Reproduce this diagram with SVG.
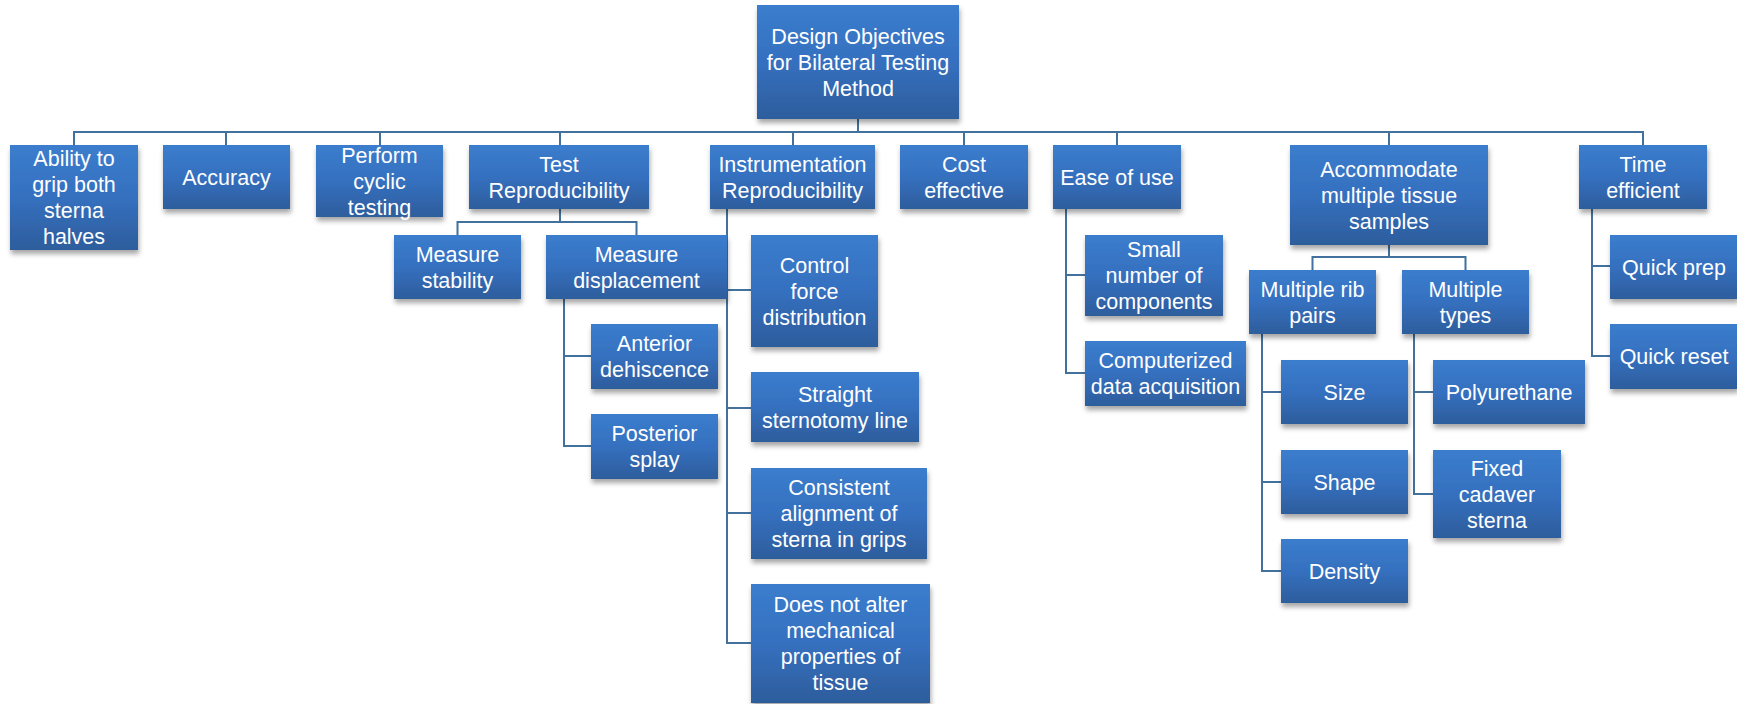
<svg xmlns="http://www.w3.org/2000/svg" width="1737" height="704" viewBox="0 0 1737 704">
<style>
.box{fill:url(#g);filter:url(#sh);}
.lbl{font-family:"Liberation Sans",Arial,sans-serif;font-size:21.5px;fill:#fff;text-anchor:middle;}
.con{fill:none;stroke:#41719C;stroke-width:2;}
</style>
<defs>
<linearGradient id="g" x1="0" y1="0" x2="0" y2="1">
<stop offset="0" stop-color="#3B7DCD"/>
<stop offset="0.5" stop-color="#3570BF"/>
<stop offset="1" stop-color="#2D5D9C"/>
</linearGradient>
<filter id="sh" x="-10%" y="-10%" width="125%" height="135%">
<feDropShadow dx="1" dy="4" stdDeviation="2.5" flood-color="#000" flood-opacity="0.35"/>
</filter>
</defs>
<rect width="1737" height="704" fill="#fff"/>
<g id="connectors">
<path class="con" d="M858 119V132M74 145V132H1643V145M226 132V145M380 132V145M560 132V145M793 132V145M964 132V145M1117 132V145M1389 132V145"/>
<path class="con" d="M560 209V222M457.5 235V222H636.5V235"/>
<path class="con" d="M564 299V446H591M564 356H591"/>
<path class="con" d="M727 209V643H751M727 290H751M727 408H751M727 513H751"/>
<path class="con" d="M1066 209V373H1085M1066 275H1085"/>
<path class="con" d="M1389 245V257M1312.5 270V257H1465.5V270"/>
<path class="con" d="M1262 334V571H1281M1262 392H1281M1262 482H1281"/>
<path class="con" d="M1414 334V494H1433M1414 392H1433"/>
<path class="con" d="M1592 209V356H1610M1592 266H1610"/>
</g>
<g id="design"><rect class="box" x="757" y="5" width="202" height="114"/><text class="lbl"><tspan x="858" y="43.5">Design Objectives</tspan><tspan x="858" y="69.5">for Bilateral Testing</tspan><tspan x="858" y="95.5">Method</tspan></text></g>
<g id="ability"><rect class="box" x="10" y="145" width="128" height="105"/><text class="lbl"><tspan x="74" y="166">Ability to</tspan><tspan x="74" y="192">grip both</tspan><tspan x="74" y="218">sterna</tspan><tspan x="74" y="244">halves</tspan></text></g>
<g id="accuracy"><rect class="box" x="163" y="145" width="127" height="64"/><text class="lbl" x="226.5" y="184.5">Accuracy</text></g>
<g id="cyclic"><rect class="box" x="316" y="145" width="127" height="72"/><text class="lbl"><tspan x="379.5" y="162.5">Perform</tspan><tspan x="379.5" y="188.5">cyclic</tspan><tspan x="379.5" y="214.5">testing</tspan></text></g>
<g id="testrep"><rect class="box" x="469" y="145" width="180" height="64"/><text class="lbl"><tspan x="559" y="171.5">Test</tspan><tspan x="559" y="197.5">Reproducibility</tspan></text></g>
<g id="instrep"><rect class="box" x="710" y="145" width="165" height="64"/><text class="lbl"><tspan x="792.5" y="171.5">Instrumentation</tspan><tspan x="792.5" y="197.5">Reproducibility</tspan></text></g>
<g id="cost"><rect class="box" x="900" y="145" width="128" height="64"/><text class="lbl"><tspan x="964" y="171.5">Cost</tspan><tspan x="964" y="197.5">effective</tspan></text></g>
<g id="ease"><rect class="box" x="1053" y="145" width="128" height="64"/><text class="lbl" x="1117" y="184.5">Ease of use</text></g>
<g id="accommodate"><rect class="box" x="1290" y="145" width="198" height="100"/><text class="lbl"><tspan x="1389" y="176.5">Accommodate</tspan><tspan x="1389" y="202.5">multiple tissue</tspan><tspan x="1389" y="228.5">samples</tspan></text></g>
<g id="time"><rect class="box" x="1579" y="145" width="128" height="64"/><text class="lbl"><tspan x="1643" y="171.5">Time</tspan><tspan x="1643" y="197.5">efficient</tspan></text></g>
<g id="mstab"><rect class="box" x="394" y="235" width="127" height="64"/><text class="lbl"><tspan x="457.5" y="261.5">Measure</tspan><tspan x="457.5" y="287.5">stability</tspan></text></g>
<g id="mdisp"><rect class="box" x="546" y="235" width="181" height="64"/><text class="lbl"><tspan x="636.5" y="261.5">Measure</tspan><tspan x="636.5" y="287.5">displacement</tspan></text></g>
<g id="anterior"><rect class="box" x="591" y="324" width="127" height="65"/><text class="lbl"><tspan x="654.5" y="351">Anterior</tspan><tspan x="654.5" y="377">dehiscence</tspan></text></g>
<g id="posterior"><rect class="box" x="591" y="414" width="127" height="65"/><text class="lbl"><tspan x="654.5" y="441">Posterior</tspan><tspan x="654.5" y="467">splay</tspan></text></g>
<g id="control"><rect class="box" x="751" y="235" width="127" height="112"/><text class="lbl"><tspan x="814.5" y="272.5">Control</tspan><tspan x="814.5" y="298.5">force</tspan><tspan x="814.5" y="324.5">distribution</tspan></text></g>
<g id="straight"><rect class="box" x="751" y="372" width="168" height="70"/><text class="lbl"><tspan x="835" y="401.5">Straight</tspan><tspan x="835" y="427.5">sternotomy line</tspan></text></g>
<g id="consistent"><rect class="box" x="751" y="468" width="176" height="91"/><text class="lbl"><tspan x="839" y="495">Consistent</tspan><tspan x="839" y="521">alignment of</tspan><tspan x="839" y="547">sterna in grips</tspan></text></g>
<g id="noalter"><rect class="box" x="751" y="584" width="179" height="119"/><text class="lbl"><tspan x="840.5" y="612">Does not alter</tspan><tspan x="840.5" y="638">mechanical</tspan><tspan x="840.5" y="664">properties of</tspan><tspan x="840.5" y="690">tissue</tspan></text></g>
<g id="small"><rect class="box" x="1085" y="235" width="138" height="81"/><text class="lbl"><tspan x="1154" y="257">Small</tspan><tspan x="1154" y="283">number of</tspan><tspan x="1154" y="309">components</tspan></text></g>
<g id="computerized"><rect class="box" x="1085" y="341" width="161" height="65"/><text class="lbl"><tspan x="1165.5" y="368">Computerized</tspan><tspan x="1165.5" y="394">data acquisition</tspan></text></g>
<g id="ribpairs"><rect class="box" x="1249" y="270" width="127" height="64"/><text class="lbl"><tspan x="1312.5" y="296.5">Multiple rib</tspan><tspan x="1312.5" y="322.5">pairs</tspan></text></g>
<g id="types"><rect class="box" x="1402" y="270" width="127" height="64"/><text class="lbl"><tspan x="1465.5" y="296.5">Multiple</tspan><tspan x="1465.5" y="322.5">types</tspan></text></g>
<g id="size"><rect class="box" x="1281" y="360" width="127" height="64"/><text class="lbl" x="1344.5" y="399.5">Size</text></g>
<g id="shape"><rect class="box" x="1281" y="450" width="127" height="64"/><text class="lbl" x="1344.5" y="489.5">Shape</text></g>
<g id="density"><rect class="box" x="1281" y="539" width="127" height="64"/><text class="lbl" x="1344.5" y="578.5">Density</text></g>
<g id="polyurethane"><rect class="box" x="1433" y="360" width="152" height="64"/><text class="lbl" x="1509" y="399.5">Polyurethane</text></g>
<g id="cadaver"><rect class="box" x="1433" y="450" width="128" height="88"/><text class="lbl"><tspan x="1497" y="475.5">Fixed</tspan><tspan x="1497" y="501.5">cadaver</tspan><tspan x="1497" y="527.5">sterna</tspan></text></g>
<g id="quickprep"><rect class="box" x="1610" y="235" width="128" height="64"/><text class="lbl" x="1674" y="274.5">Quick prep</text></g>
<g id="quickreset"><rect class="box" x="1610" y="324" width="128" height="65"/><text class="lbl" x="1674" y="364">Quick reset</text></g>
</svg>
